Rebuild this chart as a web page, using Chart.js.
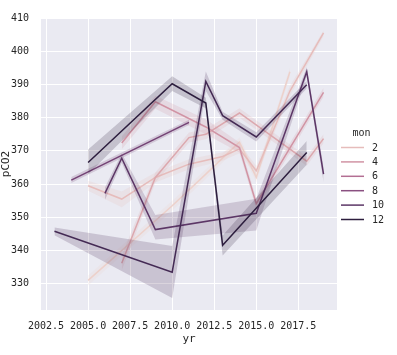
<!DOCTYPE html>
<html><head><meta charset="utf-8">
<script src="https://cdn.jsdelivr.net/npm/chart.js@4"></script>
<style>html,body{margin:0;padding:0;background:#fff;overflow:hidden}</style>
</head><body>
<canvas id="c" width="397" height="355"></canvas>
<script>
// ---- tick labels / categories ----
const xTicks = [2002.5, 2005, 2007.5, 2010, 2012.5, 2015, 2017.5];
const yTicks = [330, 340, 350, 360, 370, 380, 390, 400, 410];
const legendMonths = [2, 4, 6, 8, 10, 12];

// ---- series (year, mean pCO2, CI low, CI high) per month ----
const m1Years = [2005, 2010, 2012, 2014, 2015, 2017];
const m1Vals  = [331, 353.5, 363, 372.7, 362, 393.8];
const m1Lo    = [329.5, 352, 361.5, 371.5, 360.5, 392.5];
const m1Hi    = [332.5, 355, 364.5, 374, 363.5, 395];

const m2Years = [2005, 2007, 2009, 2011, 2013, 2014, 2015, 2017, 2019];
const m2Vals  = [359.5, 355.5, 362, 366, 368.3, 370.6, 364, 388, 405.5];
const m2Lo    = [358, 353, 360.5, 364.5, 367, 369.3, 362.5, 386.5, 404.5];
const m2Hi    = [361, 357.8, 363.5, 367.5, 369.6, 372, 365.5, 389.5, 406.2];

const m3Years = [2007, 2009, 2011, 2012, 2014, 2018, 2019];
const m3Vals  = [336.2, 362, 374, 375, 381.4, 366.9, 373.7];
const m3Lo    = [334, 360.5, 372.5, 373.5, 380, 365.5, 372.3];
const m3Hi    = [338.5, 363.5, 375.5, 376.5, 382.8, 368.3, 375];

const m4Years = [2007, 2009, 2012, 2014, 2015, 2019];
const m4Vals  = [372.4, 384.8, 377.2, 371, 354.1, 387.6];
const m4Lo    = [370.5, 382.7, 375, 369.5, 352.5, 386.3];
const m4Hi    = [374.3, 386.6, 379.5, 372.5, 355.7, 389];

const m9Years = [2004, 2011];
const m9Vals  = [361.2, 378.6];
const m9Lo    = [360.3, 377.8];
const m9Hi    = [362.1, 379.4];

const m10Years = [2006, 2007, 2009, 2015, 2018, 2019];
const m10Vals  = [357.2, 367.8, 346.3, 351.2, 393.8, 363];
const m10Lo    = [355.2, 366.4, 343.3, 346, 392.5, 360.6];
const m10Hi    = [359, 369.2, 350.7, 355.6, 395.2, 365.2];

const m11Years = [2003, 2010, 2012, 2013, 2015, 2018];
const m11Vals  = [345.8, 333.5, 390.9, 380.6, 374.2, 389.9];
const m11Lo    = [344.6, 325.7, 388, 379.4, 372.8, 388.8];
const m11Hi    = [346.9, 341.4, 393.9, 381.8, 375.6, 391];

const m12Years = [2005, 2010, 2012, 2013, 2018];
const m12Vals  = [366.5, 390.2, 384.4, 341.6, 369.5];
const m12Lo    = [363, 388, 382.8, 338.5, 365.8];
const m12Hi    = [370.4, 392.5, 386, 344.5, 373];

const series = [
  {mon: 1, years: m1Years, vals: m1Vals, lo: m1Lo, hi: m1Hi},
  {mon: 2, years: m2Years, vals: m2Vals, lo: m2Lo, hi: m2Hi},
  {mon: 3, years: m3Years, vals: m3Vals, lo: m3Lo, hi: m3Hi},
  {mon: 4, years: m4Years, vals: m4Vals, lo: m4Lo, hi: m4Hi},
  {mon: 9, years: m9Years, vals: m9Vals, lo: m9Lo, hi: m9Hi},
  {mon: 10, years: m10Years, vals: m10Vals, lo: m10Lo, hi: m10Hi},
  {mon: 11, years: m11Years, vals: m11Vals, lo: m11Lo, hi: m11Hi},
  {mon: 12, years: m12Years, vals: m12Vals, lo: m12Lo, hi: m12Hi},
];

// seaborn default sequential cubehelix colormap (light -> dark), hue range 1..12
function monColor(m, alpha) {
  const t = (m - 1) / 11;
  const x = 0.85 - 0.7 * t;
  const a = 0.8 * x * (1 - x) / 2;
  const phi = 2 * Math.PI * (0.4 * x);
  const c = Math.cos(phi), s = Math.sin(phi);
  const f = (p0, p1) => Math.round(255 * Math.min(1, Math.max(0, x + a * (p0 * c + p1 * s))));
  const r = f(-0.14861, 1.78277), g = f(-0.29227, -0.90649), b = f(1.97294, 0);
  return `rgba(${r},${g},${b},${alpha})`;
}

const datasets = [];
series.forEach(s => {
  const rank = 13 - s.mon;
  const pts = arr => s.years.map((y, i) => ({x: y, y: arr[i]}));
  datasets.push({data: pts(s.hi), borderWidth: 0, pointRadius: 0, fill: '+1',
    backgroundColor: monColor(s.mon, 0.2), order: rank * 3 - 1});
  datasets.push({data: pts(s.lo), borderWidth: 0, pointRadius: 0, fill: false,
    order: rank * 3});
  datasets.push({data: pts(s.vals), borderColor: monColor(s.mon, 1), borderWidth: 1.5,
    pointRadius: 0, fill: false, order: rank * 3 - 2});
});

const FONT = "'DejaVu Sans Mono', monospace";
const TXT = '#262626';

const bgPlugin = {
  id: 'bg',
  beforeDraw(chart) {
    const {ctx, chartArea: a} = chart;
    ctx.save();
    ctx.fillStyle = '#eaeaf2';
    ctx.fillRect(a.left, a.top, a.right - a.left, a.bottom - a.top);
    ctx.restore();
  }
};

const legendPlugin = {
  id: 'monLegend',
  afterDraw(chart) {
    const ctx = chart.ctx;
    ctx.save();
    ctx.font = `10px ${FONT}`;
    ctx.fillStyle = TXT;
    ctx.textBaseline = 'middle';
    ctx.textAlign = 'center';
    ctx.fillText('mon', 361.5, 133);
    ctx.textAlign = 'left';
    legendMonths.forEach((m, i) => {
      const y = 147.5 + i * 14.4;
      ctx.strokeStyle = monColor(m, 1);
      ctx.lineWidth = 1.5;
      ctx.beginPath();
      ctx.moveTo(341, y);
      ctx.lineTo(364, y);
      ctx.stroke();
      ctx.fillText(String(m), 372, y + 0.5);
    });
    ctx.restore();
  }
};

new Chart(document.getElementById('c'), {
  type: 'line',
  data: {datasets},
  plugins: [bgPlugin, legendPlugin],
  options: {
    responsive: false,
    animation: false,
    devicePixelRatio: 1,
    layout: {padding: {top: 10, right: 60, bottom: 0, left: 0}},
    plugins: {legend: {display: false}, tooltip: {enabled: false},
      filler: {propagate: false}},
    elements: {line: {tension: 0}},
    scales: {
      x: {
        type: 'linear', min: 2002.2, max: 2019.8,
        afterBuildTicks: sc => { sc.ticks = xTicks.map(v => ({value: v})); },
        afterFit: sc => { sc.height = 45; },
        grid: {color: '#ffffff', lineWidth: 1, drawTicks: false},
        border: {display: false},
        ticks: {padding: 10, color: TXT, font: {family: FONT, size: 10},
          maxRotation: 0, autoSkip: false,
          callback: v => Number(v).toFixed(1)},
        title: {display: true, text: 'yr', color: TXT,
          font: {family: FONT, size: 11}, padding: {top: 0, bottom: 9}}
      },
      y: {
        type: 'linear', min: 322.1, max: 410,
        afterBuildTicks: sc => { sc.ticks = yTicks.map(v => ({value: v})); },
        afterFit: sc => { sc.width = 41; },
        grid: {color: '#ffffff', lineWidth: 1, drawTicks: false},
        border: {display: false},
        ticks: {padding: 12, color: TXT, font: {family: FONT, size: 10},
          autoSkip: false, callback: v => String(v)},
        title: {display: true, text: 'pCO2', color: TXT,
          font: {family: FONT, size: 11}, padding: {top: 0, bottom: 0}}
      }
    }
  }
});
</script>
</body></html>
